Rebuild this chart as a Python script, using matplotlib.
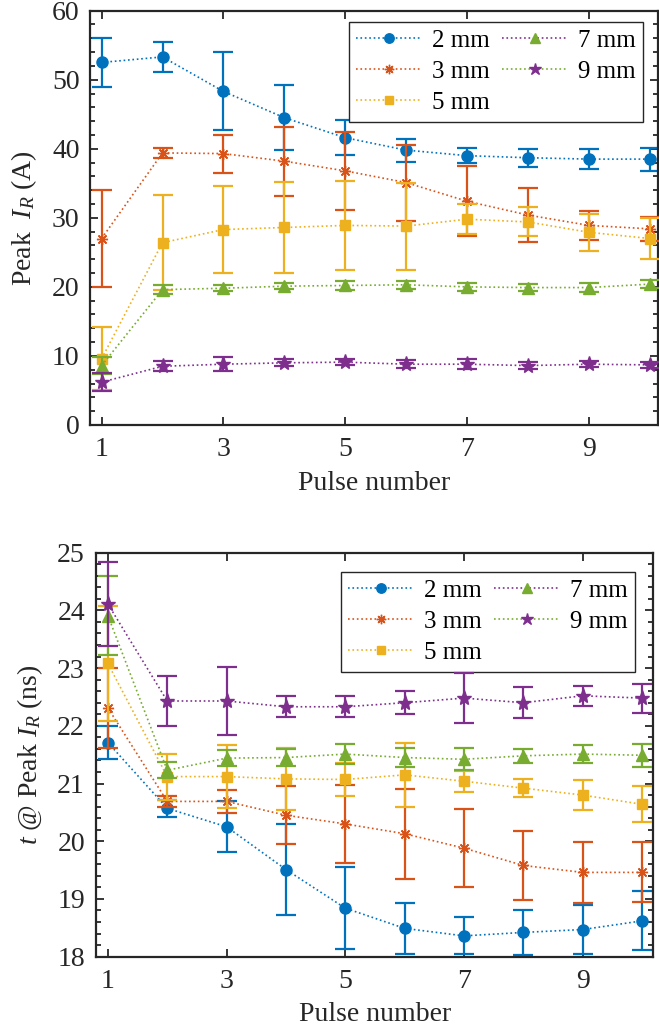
import numpy as np
import matplotlib
matplotlib.use('Agg')
import matplotlib.pyplot as plt
from matplotlib.lines import Line2D
from matplotlib.ticker import MultipleLocator

plt.rcParams['font.family'] = ['Liberation Serif', 'DejaVu Serif']
plt.rcParams['mathtext.fontset'] = 'custom'
plt.rcParams['mathtext.rm'] = 'Liberation Serif'
plt.rcParams['mathtext.it'] = 'Liberation Serif:italic'

pulse = np.arange(1, 11)
labels = ['2 mm', '3 mm', '5 mm', '7 mm', '9 mm']

# peak current (A), mean and error
i2 = [52.5, 53.3, 48.3, 44.5, 41.6, 39.8, 39.0, 38.7, 38.5, 38.5]
i2_err = [3.6, 2.15, 5.65, 4.7, 2.55, 1.65, 1.1, 1.3, 1.4, 1.65]
i3 = [27.0, 39.4, 39.3, 38.2, 36.8, 35.1, 32.4, 30.4, 28.9, 28.4]
i3_err = [7.0, 0.7, 2.75, 5.0, 5.6, 5.5, 5.05, 3.85, 2.15, 1.7]
i5 = [9.6, 26.4, 28.3, 28.6, 28.9, 28.8, 29.8, 29.4, 27.9, 27.0]
i5_err = [4.6, 6.9, 6.35, 6.6, 6.4, 6.3, 2.2, 2.1, 2.65, 3.0]
i7 = [8.6, 19.6, 19.8, 20.1, 20.2, 20.3, 20.0, 19.9, 19.9, 20.4]
i7_err = [1.25, 0.6, 0.45, 0.45, 0.6, 0.6, 0.55, 0.5, 0.6, 0.55]
i9 = [6.2, 8.5, 8.8, 9.0, 9.1, 8.8, 8.8, 8.6, 8.8, 8.7]
i9_err = [1.3, 0.75, 1.0, 0.5, 0.4, 0.6, 0.7, 0.5, 0.4, 0.4]

# time at peak current (ns)
t2 = [21.71, 20.57, 20.25, 19.51, 18.84, 18.49, 18.36, 18.42, 18.47, 18.62]
t2_err = [0.28, 0.15, 0.44, 0.79, 0.71, 0.44, 0.32, 0.39, 0.43, 0.51]
t3 = [22.31, 20.69, 20.69, 20.45, 20.30, 20.13, 19.88, 19.58, 19.46, 19.46]
t3_err = [0.70, 0.10, 0.20, 0.50, 0.67, 0.78, 0.68, 0.60, 0.53, 0.52]
t5 = [23.08, 21.12, 21.12, 21.08, 21.07, 21.15, 21.04, 20.92, 20.80, 20.64]
t5_err = [0.99, 0.40, 0.55, 0.54, 0.29, 0.56, 0.18, 0.15, 0.26, 0.31]
t7 = [23.91, 21.23, 21.44, 21.45, 21.51, 21.45, 21.42, 21.48, 21.51, 21.49]
t7_err = [0.69, 0.14, 0.14, 0.15, 0.18, 0.16, 0.19, 0.12, 0.15, 0.20]
t9 = [24.11, 22.43, 22.43, 22.33, 22.33, 22.40, 22.48, 22.40, 22.52, 22.48]
t9_err = [0.73, 0.44, 0.59, 0.18, 0.18, 0.20, 0.43, 0.27, 0.17, 0.25]

COLORS = ['#0072BD', '#D95319', '#EDB120', '#77AC30', '#7E2F8E']
MARKERS = ['o', (8, 2, 0), 's', '^', '*']
MSIZES = [8, 8, 7, 9, 11]
# the legend of the original swaps the line colours of 7 mm and 9 mm
LEG_LINE = ['#0072BD', '#D95319', '#EDB120', '#7E2F8E', '#77AC30']
AXC = '#262626'
FS = 20
LEG_FS = 18


def draw(ax, series, errs):
    for k, (y, e) in enumerate(zip(series, errs)):
        c = COLORS[k]
        ax.errorbar(pulse, y, yerr=e, fmt='none', ecolor=c, elinewidth=1.6,
                    capsize=7, capthick=1.6, zorder=2 + k)
        ax.plot(pulse, y, linestyle=':', linewidth=1.2, color=c,
                marker=MARKERS[k], markersize=MSIZES[k], markerfacecolor=c,
                markeredgecolor=c, markeredgewidth=1.0, zorder=2 + k)


def style(ax, ylim, ystep, yminor, xlim, ypad):
    ax.set_xlim(*xlim)
    ax.set_ylim(*ylim)
    ax.set_xticks([1, 3, 5, 7, 9])
    ax.yaxis.set_major_locator(MultipleLocator(ystep))
    ax.yaxis.set_minor_locator(MultipleLocator(yminor))
    ax.tick_params(which='both', direction='in', top=True, right=True,
                   colors=AXC, labelcolor=AXC, labelsize=FS, width=1.3)
    ax.tick_params(which='major', length=6)
    ax.tick_params(which='minor', length=3.5)
    ax.tick_params(axis='x', pad=9)
    ax.tick_params(axis='y', pad=ypad)
    for s in ax.spines.values():
        s.set_linewidth(1.6)
        s.set_color(AXC)
    ax.set_xlabel('Pulse number', fontsize=FS, color=AXC, labelpad=6)


def legend(ax, anchor):
    handles = []
    for k in range(5):
        handles.append(Line2D([], [], linestyle=':', linewidth=1.2,
                              color=LEG_LINE[k], marker=MARKERS[k],
                              markersize=MSIZES[k] * 0.85,
                              markerfacecolor=COLORS[k],
                              markeredgecolor=COLORS[k]))
    leg = ax.legend(handles, labels, ncol=2, loc='upper right',
                    bbox_to_anchor=anchor, bbox_transform=ax.figure.transFigure,
                    borderaxespad=0, fontsize=LEG_FS, handlelength=2.6,
                    handletextpad=0.42, columnspacing=0.52, labelspacing=0.35,
                    borderpad=0.3, fancybox=False, framealpha=1)
    leg.get_frame().set_edgecolor(AXC)
    leg.get_frame().set_linewidth(1.0)


fig = plt.figure(figsize=(6.59, 10.34), dpi=100)
ax1 = fig.add_axes([0.1366, 0.589, 0.8624, 0.4007])
ax2 = fig.add_axes([0.1457, 0.0748, 0.8457, 0.3907])

draw(ax1, [i2, i3, i5, i7, i9], [i2_err, i3_err, i5_err, i7_err, i9_err])
style(ax1, (0, 60), 10, 2, (0.81, 10.14), 7.5)
ax1.set_ylabel('Peak  $I_R$ (A)', fontsize=FS, color=AXC, labelpad=9.5)
legend(ax1, (0.976, 0.979))

draw(ax2, [t2, t3, t5, t7, t9], [t2_err, t3_err, t5_err, t7_err, t9_err])
style(ax2, (18, 25), 1, 0.2, (0.8, 10.19), 8)
ax2.set_ylabel('$t$ @ Peak $I_R$ (ns)', fontsize=FS, color=AXC, labelpad=9)
legend(ax2, (0.9636, 0.4471))

fig.savefig('out.png', dpi=100)
